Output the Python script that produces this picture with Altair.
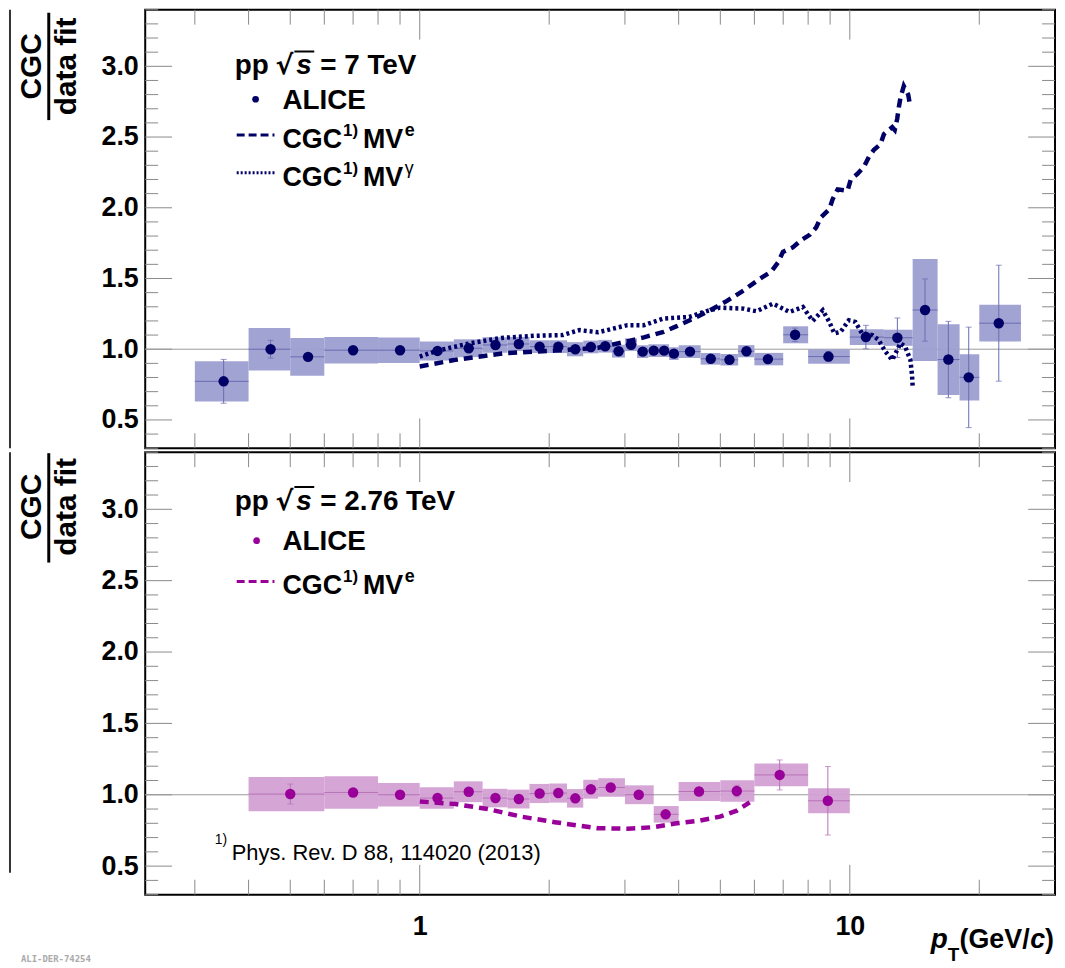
import altair as alt
import pandas as pd

FONT = "Liberation Sans"
W = 915
H_TOP = 441
H_BOT = 445
X_DOMAIN = [0.23, 30]
Y_DOMAIN = [0.3, 3.4]

# ---------------- pp 7 TeV: ALICE / CGC ----------------
a7_lo = [0.3, 0.4, 0.5, 0.6, 0.8, 1.0, 1.2, 1.4, 1.6, 1.8, 2.0, 2.2, 2.4, 2.6, 2.8, 3.0, 3.2,
         3.4, 3.6, 3.8, 4.0, 4.5, 5.0, 5.5, 6.0, 7.0, 8.0, 10.0, 12.0, 14.0, 16.0, 18.0, 20.0]
a7_hi = [0.4, 0.5, 0.6, 0.8, 1.0, 1.2, 1.4, 1.6, 1.8, 2.0, 2.2, 2.4, 2.6, 2.8, 3.0, 3.2, 3.4,
         3.6, 3.8, 4.0, 4.5, 5.0, 5.5, 6.0, 7.0, 8.0, 10.0, 12.0, 14.0, 16.0, 18.0, 20.0, 25.0]
a7_x = [0.35, 0.45, 0.55, 0.7, 0.9, 1.1, 1.3, 1.5, 1.7, 1.9, 2.1, 2.3, 2.5, 2.7, 2.9, 3.1, 3.3,
        3.5, 3.7, 3.9, 4.25, 4.75, 5.25, 5.75, 6.45, 7.46, 8.92, 10.9, 12.9, 14.96, 16.95, 18.9, 22.2]
a7_y = [0.773, 1.0, 0.946, 0.993, 0.993, 0.988, 1.007, 1.03, 1.037, 1.018, 1.018, 1.0, 1.016,
        1.021, 0.986, 1.032, 0.983, 0.99, 0.99, 0.969, 0.983, 0.932, 0.925, 0.986, 0.93, 1.102,
        0.948, 1.086, 1.081, 1.277, 0.927, 0.801, 1.184]
a7_stat = [0.155, 0.063, 0.02, 0.012, 0.012, 0.01, 0.01, 0.01, 0.01, 0.01, 0.01, 0.01, 0.01,
           0.01, 0.01, 0.01, 0.01, 0.01, 0.01, 0.01, 0.012, 0.012, 0.014, 0.015, 0.02, 0.047,
           0.035, 0.083, 0.14, 0.22, 0.27, 0.355, 0.41]
a7_sys = [0.142, 0.15, 0.134, 0.094, 0.09, 0.067, 0.063, 0.055, 0.05, 0.045, 0.045, 0.05, 0.045,
          0.045, 0.045, 0.045, 0.045, 0.045, 0.045, 0.045, 0.045, 0.041, 0.041, 0.043, 0.044,
          0.06, 0.051, 0.056, 0.057, 0.36, 0.25, 0.163, 0.13]

mve7_x = [1.0, 1.21, 1.58, 2.06, 2.33, 2.6, 2.78, 3.09, 3.32, 3.69, 3.96, 4.33, 4.73, 5.17, 5.66,
          6.17, 6.57, 6.81, 6.99, 7.37, 7.70, 8.08, 8.35, 8.57, 8.96, 9.12, 9.37, 9.88, 10.05,
          10.42, 10.79, 11.08, 11.38, 11.79, 12.0, 12.55, 12.72, 12.89, 13.0, 13.12, 13.35,
          13.67, 13.83]
mve7_y = [0.878, 0.925, 0.972, 0.99, 1.0, 1.01, 1.03, 1.06, 1.084, 1.123, 1.163, 1.217, 1.275,
          1.34, 1.415, 1.497, 1.55, 1.613, 1.688, 1.72, 1.77, 1.81, 1.86, 1.933, 1.99, 2.06,
          2.13, 2.12, 2.2, 2.24, 2.29, 2.36, 2.41, 2.45, 2.52, 2.57, 2.55, 2.63, 2.71, 2.78,
          2.86, 2.8, 2.71]

mvg7_x = [1.0, 1.1, 1.3, 1.55, 1.85, 2.15, 2.35, 2.6, 3.04, 3.32, 3.69, 4.23, 4.65, 4.99, 5.66,
          6.07, 6.63, 7.24, 7.78, 8.2, 8.65, 8.96, 9.2, 9.52, 9.95, 10.3, 10.67, 11.28, 11.67,
          12.1, 12.55, 12.72, 13.12, 13.45, 13.83, 13.95, 14.0]
mvg7_y = [0.948, 0.99, 1.04, 1.08, 1.095, 1.1, 1.135, 1.12, 1.17, 1.17, 1.217, 1.228, 1.27,
          1.294, 1.287, 1.268, 1.322, 1.263, 1.298, 1.2, 1.275, 1.193, 1.112, 1.123, 1.205,
          1.193, 1.112, 1.1, 1.065, 0.983, 0.925, 0.96, 1.042, 1.018, 0.925, 0.82, 0.738]

# ---------------- pp 2.76 TeV: ALICE / CGC ----------------
a2_lo = [0.4, 0.6, 0.8, 1.0, 1.2, 1.4, 1.6, 1.8, 2.0, 2.2, 2.4, 2.6, 3.0, 3.5, 4.0, 5.0, 6.0, 8.0]
a2_hi = [0.6, 0.8, 1.0, 1.2, 1.4, 1.6, 1.8, 2.0, 2.2, 2.4, 2.6, 3.0, 3.5, 4.0, 5.0, 6.0, 8.0, 10.0]
a2_x = [0.5, 0.7, 0.9, 1.1, 1.3, 1.5, 1.7, 1.9, 2.1, 2.3, 2.5, 2.78, 3.23, 3.73, 4.46, 5.46, 6.87, 8.89]
a2_y = [1.005, 1.016, 1.0, 0.977, 1.021, 0.977, 0.97, 1.009, 1.012, 0.975, 1.039, 1.051, 1.0,
        0.863, 1.023, 1.026, 1.139, 0.958]
a2_stat = [0.07, 0.015, 0.012, 0.012, 0.012, 0.012, 0.012, 0.012, 0.012, 0.012, 0.015, 0.015,
           0.015, 0.02, 0.025, 0.04, 0.105, 0.24]
a2_sys = [0.12, 0.114, 0.083, 0.075, 0.073, 0.065, 0.066, 0.067, 0.067, 0.065, 0.066, 0.065,
          0.066, 0.058, 0.066, 0.075, 0.08, 0.088]

mve2_x = [1.0, 1.21, 1.44, 1.72, 2.06, 2.33, 2.59, 3.04, 3.5, 3.96, 4.48, 4.99, 5.46, 5.85]
mve2_y = [0.953, 0.935, 0.9, 0.847, 0.808, 0.785, 0.766, 0.762, 0.773, 0.8, 0.819, 0.847,
          0.889, 0.947]

# ---------------- ticks ----------------
x_major = [1, 10]
x_minor = [0.3, 0.4, 0.5, 0.6, 0.7, 0.8, 0.9, 2, 3, 4, 5, 6, 7, 8, 9, 20]
y_major = [0.5, 1.0, 1.5, 2.0, 2.5, 3.0]
y_minor = [0.3, 0.4, 0.6, 0.7, 0.8, 0.9, 1.1, 1.2, 1.3, 1.4, 1.6, 1.7, 1.8, 1.9, 2.1, 2.2,
           2.3, 2.4, 2.6, 2.7, 2.8, 2.9, 3.1, 3.2, 3.3, 3.4]

NAVY = "#000066"
BOX7 = "#9c9ed0"
BAR7 = "#6a6cb3"
MAG = "#990099"
BOX2 = "#d3a0d3"
BAR2 = "#b872b8"

xs = alt.Scale(type="log", domain=X_DOMAIN, nice=False)
ys = alt.Scale(domain=Y_DOMAIN, nice=False, zero=False)
dummy = pd.DataFrame({"a": [0]})

y_axis = alt.Axis(values=y_major, format=".1f", labelFont=FONT, labelFontSize=27,
                  labelFontWeight="bold", labelColor="black", ticks=False, tickSize=0,
                  domain=False, grid=False, labelPadding=7, title=None)
x_axis_bottom = alt.Axis(values=x_major, format="~g", labelFont=FONT, labelFontSize=27,
                         labelFontWeight="bold", labelColor="black", ticks=False, tickSize=0,
                         domain=False, grid=False, labelPadding=19, title=None)


def txt(x, y, s, size, weight="bold", style="normal", align="left", baseline="alphabetic",
        angle=0, color="black", font=FONT):
    kw = dict(fontSize=size, fontWeight=weight, fontStyle=style, align=align,
              baseline=baseline, color=color, font=font)
    if angle:
        kw["angle"] = angle
    return alt.Chart(dummy).mark_text(**kw).encode(
        x=alt.value(x), y=alt.value(y), text=alt.value(s))


def hline(x1, x2, y, color, width, dash=None):
    kw = dict(color=color, strokeWidth=width)
    if dash:
        kw["strokeDash"] = dash
    return alt.Chart(dummy).mark_rule(**kw).encode(
        x=alt.value(x1), x2=alt.value(x2), y=alt.value(y))


def vline(x, y1, y2, color, width):
    return alt.Chart(dummy).mark_rule(color=color, strokeWidth=width).encode(
        x=alt.value(x), y=alt.value(y1), y2=alt.value(y2))


def panel(H, lo, hi, px, py, stat, sys, box_c, bar_c, mk_c, lines, x_axis, extra):
    X = lambda f: alt.X(f, scale=xs, axis=x_axis, title=None)
    Y = lambda f: alt.Y(f, scale=ys, axis=y_axis, title=None)
    df = pd.DataFrame({"lo": lo, "hi": hi, "x": px, "y": py, "stat": stat, "sys": sys})
    df["ylo"] = df["y"] - df["sys"]
    df["yhi"] = df["y"] + df["sys"]
    df["slo"] = df["y"] - df["stat"]
    df["shi"] = df["y"] + df["stat"]

    layers = []
    xm = pd.DataFrame({"v": x_major})
    xn = pd.DataFrame({"v": x_minor})
    ym = pd.DataFrame({"v": y_major})
    yn = pd.DataFrame({"v": y_minor})
    tk = dict(color="#8a8a8a", strokeWidth=1)
    for d, L in ((xm, 30), (xn, 15)):
        layers.append(alt.Chart(d).mark_rule(**tk).encode(
            x=X("v:Q"), y=alt.value(H), y2=alt.value(H - L)))
        layers.append(alt.Chart(d).mark_rule(**tk).encode(
            x=X("v:Q"), y=alt.value(0), y2=alt.value(L)))
    for d, L in ((ym, 27), (yn, 13)):
        layers.append(alt.Chart(d).mark_rule(**tk).encode(
            y=Y("v:Q"), x=alt.value(0), x2=alt.value(L)))
        layers.append(alt.Chart(d).mark_rule(**tk).encode(
            y=Y("v:Q"), x=alt.value(W - L), x2=alt.value(W)))
    layers.append(alt.Chart(pd.DataFrame({"v": [1.0]})).mark_rule(
        color="#9a9a9a", strokeWidth=1).encode(y=Y("v:Q")))
    base = alt.Chart(df)
    layers.append(base.mark_rect(color=box_c, opacity=0.95).encode(
        x=X("lo:Q"), x2="hi:Q", y=Y("ylo:Q"), y2="yhi:Q"))
    layers.append(base.mark_rule(color=bar_c, strokeWidth=1).encode(
        x=X("lo:Q"), x2="hi:Q", y=Y("y:Q")))
    layers.append(base.mark_rule(color=bar_c, strokeWidth=1).encode(
        x=X("x:Q"), y=Y("slo:Q"), y2="shi:Q"))
    layers.append(base.mark_tick(color=bar_c, orient="horizontal", size=6, thickness=1).encode(
        x=X("x:Q"), y=Y("slo:Q")))
    layers.append(base.mark_tick(color=bar_c, orient="horizontal", size=6, thickness=1).encode(
        x=X("x:Q"), y=Y("shi:Q")))
    for lx, ly, c, dash, w in lines:
        ld = pd.DataFrame({"x": lx, "y": ly})
        layers.append(alt.Chart(ld).mark_line(color=c, strokeDash=dash, strokeWidth=w).encode(
            x=X("x:Q"), y=Y("y:Q"), order="x:Q"))
    layers.append(base.mark_circle(color=mk_c, size=110, opacity=1).encode(
        x=X("x:Q"), y=Y("y:Q")))
    layers += extra
    return alt.layer(*layers).properties(width=W, height=H)


def ytitle(H, cy, y1, y2):
    return [
        vline(-136, 0, H, "#333333", 2),
        txt(-114, cy, "CGC", 30, align="center", baseline="middle", angle=270),
        txt(-79, cy, "data fit", 30, align="center", baseline="middle", angle=270),
        vline(-97, y1, y2, "black", 3),
    ]


def legend_entry(y, label_sup, color, dash, sup_weight="bold"):
    return [
        hline(92, 130, y - 13, color, 3, dash),
        txt(138, y, "CGC", 27),
        txt(199, y - 12, "1)", 17),
        txt(219, y, "MV", 27),
        txt(261, y - 12, label_sup, 18, weight=sup_weight),
    ]


def header(y, energy):
    return [
        txt(90, y, "pp", 28),
        txt(131, y, "√", 27, font="DejaVu Sans"),
        hline(150, 170, y - 23, "black", 2),
        txt(152, y, "s", 28, style="italic"),
        txt(176, y, "= " + energy + " TeV", 28),
    ]


top_extra = ytitle(H_TOP, 57, 3, 111) + header(65, "7") + [
    alt.Chart(dummy).mark_circle(color=NAVY, size=45, opacity=1).encode(
        x=alt.value(111), y=alt.value(90)),
    txt(138, 100, "ALICE", 28),
] + legend_entry(139, "e", NAVY, [8, 4]) + legend_entry(177, "γ", NAVY, [2, 2], "normal")

bot_extra = ytitle(423, 55, 1, 111) + header(58, "2.76") + [
    alt.Chart(dummy).mark_circle(color=MAG, size=45, opacity=1).encode(
        x=alt.value(112), y=alt.value(89)),
    txt(138, 98, "ALICE", 28),
] + legend_entry(143, "e", MAG, [8, 4]) + [
    txt(70, 394, "1)", 14, weight="normal"),
    txt(87, 410, "Phys. Rev. D 88, 114020 (2013)", 22, weight="normal"),
    txt(790, 499, "p", 28, style="italic"),
    txt(807, 512, "T", 19),
    txt(819, 499, "(GeV/", 27),
    txt(890, 499, "c", 27, style="italic"),
    txt(905, 499, ")", 27),
    txt(-125, 513, "ALI-DER-74254", 9, color="#aaaaaa", font="DejaVu Sans Mono"),
]

top = panel(H_TOP, a7_lo, a7_hi, a7_x, a7_y, a7_stat, a7_sys, BOX7, BAR7, NAVY,
            [(mve7_x, mve7_y, NAVY, [9, 6], 4.5), (mvg7_x, mvg7_y, NAVY, [3, 3], 4.5)],
            None, top_extra)
bottom = panel(H_BOT, a2_lo, a2_hi, a2_x, a2_y, a2_stat, a2_sys, BOX2, BAR2, MAG,
               [(mve2_x, mve2_y, MAG, [9, 6], 4.5)], x_axis_bottom, bot_extra)

chart = alt.vconcat(top, bottom, spacing=0).properties(
    padding={"left": 0, "top": -3, "right": 0, "bottom": 0}
).configure(font=FONT).configure_view(stroke="black", strokeWidth=2)

chart.save("out.html", embed_options={"renderer": "svg", "actions": False})
